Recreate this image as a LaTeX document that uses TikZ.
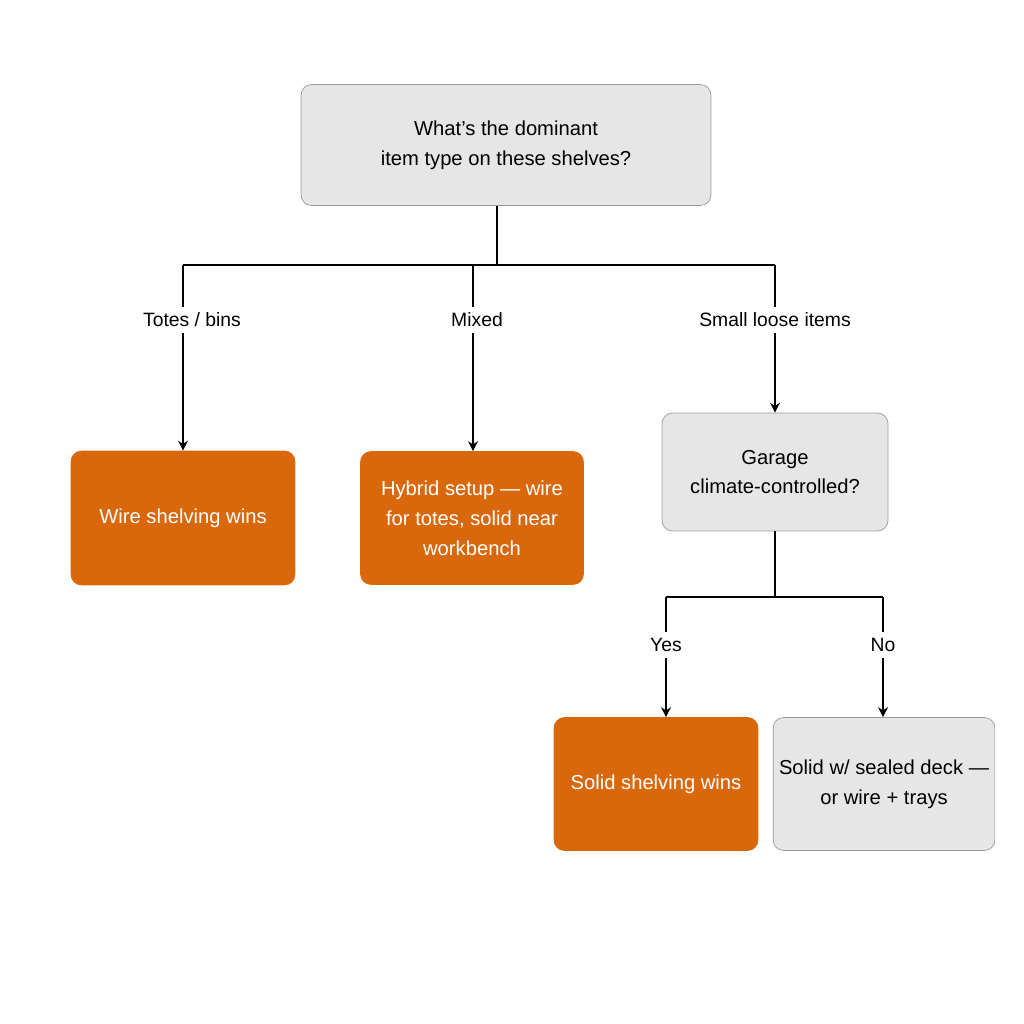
\documentclass[tikz,border=0pt]{standalone}
\usepackage{fontspec}
\setmainfont{Liberation Sans}
\usetikzlibrary{arrows.meta,positioning}
\definecolor{boxgray}{HTML}{E6E6E6}
\definecolor{boxedge}{HTML}{9A9A9A}
\definecolor{pickorange}{HTML}{D9670B}
\tikzset{
  question/.style={draw=boxedge,fill=boxgray,rounded corners=6pt,align=center,font=\fontsize{11.5}{17}\selectfont},
  answer/.style={draw=pickorange,fill=pickorange,text=white,rounded corners=6pt,align=center,font=\fontsize{11.5}{17}\selectfont},
  branch/.style={font=\fontsize{11}{14}\selectfont},
  link/.style={line width=0.9pt},
  arrowlink/.style={link,-{Stealth[width=2mm,length=2mm]}}
}
\begin{document}
\begin{tikzpicture}[x=0.02cm,y=-0.02cm]
  \useasboundingbox (0,0) rectangle (1024,1024);
  % decision boxes
  \node[question,minimum width=8.2cm,minimum height=2.42cm] (dominant) at (506,145)
    {What’s the dominant\\item type on these shelves?};
  \node[answer,minimum width=4.48cm,minimum height=2.68cm] (wire) at (183,518) {Wire shelving wins};
  \node[answer,minimum width=4.46cm,minimum height=2.66cm] (hybrid) at (472,518)
    {Hybrid setup — wire\\for totes, solid near\\workbench};
  \node[question,minimum width=4.52cm,minimum height=2.36cm] (climate) at (775,472)
    {Garage\\climate-controlled?};
  \node[answer,minimum width=4.08cm,minimum height=2.66cm] (solid) at (656,784) {Solid shelving wins};
  \node[question,minimum width=4.16cm,minimum height=2.66cm] (sealed) at (884,784)
    {Solid w/ sealed deck —\\or wire + trays};
  % branch labels
  \node[branch] (totes) at (192,320) {Totes / bins};
  \node[branch] (mixed) at (477,320) {Mixed};
  \node[branch] (loose) at (775,320) {Small loose items};
  \node[branch] (yes) at (666,645) {Yes};
  \node[branch] (no) at (883,645) {No};
  % junctions
  \coordinate (split) at (497,265);
  \coordinate (splitL) at (183,265);
  \coordinate (splitM) at (473,265);
  \coordinate (splitR) at (775,265);
  \coordinate (fork) at (775,597);
  \coordinate (forkL) at (666,597);
  \coordinate (forkR) at (883,597);
  % connectors
  \draw[link] (dominant.south -| split) -- (split);
  \draw[link] (splitL) -- (splitR);
  \draw[link] (splitL) -- (splitL |- totes.north);
  \draw[link] (splitM) -- (splitM |- mixed.north);
  \draw[link] (splitR) -- (loose.north);
  \draw[arrowlink] (splitL |- totes.south) -- (splitL |- wire.north);
  \draw[arrowlink] (splitM |- mixed.south) -- (splitM |- hybrid.north);
  \draw[arrowlink] (loose.south) -- (climate.north);
  \draw[link] (climate.south) -- (fork);
  \draw[link] (forkL) -- (forkR);
  \draw[link] (forkL) -- (yes.north);
  \draw[link] (forkR) -- (no.north);
  \draw[arrowlink] (yes.south) -- (yes.south |- solid.north);
  \draw[arrowlink] (no.south) -- (no.south |- sealed.north);
\end{tikzpicture}
\end{document}
